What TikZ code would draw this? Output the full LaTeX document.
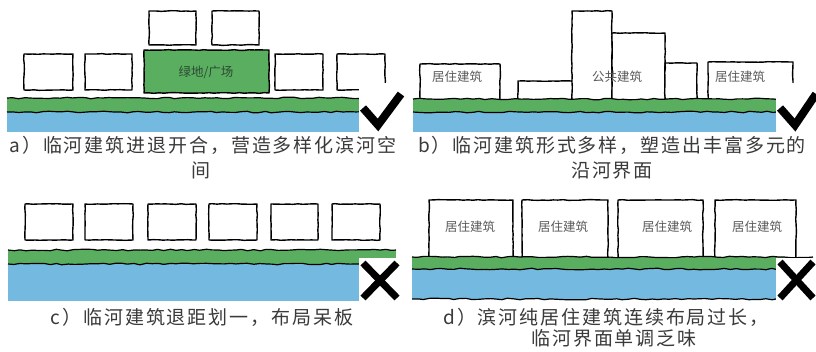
\documentclass[tikz,border=0pt]{standalone}
\usepackage{fontspec}
\setmainfont{Noto Sans CJK SC}
\usetikzlibrary{decorations.pathmorphing}
\definecolor{grass}{HTML}{5AAE60}
\definecolor{river}{HTML}{74B9DF}
\definecolor{captxt}{HTML}{3A3A3A}
\definecolor{lbltxt}{HTML}{5A5A5A}
\definecolor{lblgreen}{HTML}{2E4A33}
\pgfmathsetseed{7}
\tikzset{
  sketch/.style={draw=black, line width=1.4pt, line join=round, decorate,
    decoration={random steps, segment length=5pt, amplitude=0.35pt}},
  bldg/.style={sketch, fill=white},
  greenbox/.style={sketch, fill=grass},
  edge/.style={draw=black, line width=1.2pt, line join=round, decorate,
    decoration={random steps, segment length=6pt, amplitude=0.8pt}},
  caption/.style={text=captxt, inner sep=0pt,
    font=\fontsize{19}{22}\selectfont\addfontfeatures{LetterSpace=10}},
  lbl/.style={text=lbltxt, inner sep=0pt, font=\fontsize{12.5}{14}\selectfont},
  tick/.style={line width=8pt, line join=miter, line cap=butt},
  cross/.style={line width=7pt, line cap=butt},
}
\begin{document}
\begin{tikzpicture}[x=1pt,y=-1pt]
\useasboundingbox (0,0) rectangle (816,351);
\fill[white] (0,0) rectangle (816,351);

% ---------- panel a ----------
\path[bldg] (149,11) rectangle (196,45);
\path[bldg] (212,11) rectangle (259,45);
\path[bldg] (24,54) rectangle (73,90);
\path[bldg] (85,54) rectangle (132,90);
\path[greenbox] (144,50) rectangle (269,93);
\path[bldg] (275,54) rectangle (323,90);
\path[bldg] (337,54) rectangle (385,90);
\node[lbl, text=lblgreen] (a-green) at (206,72) {绿地/广场};
\fill[river] (7,112) rectangle (398,132);
\fill[grass] (7,98) rectangle (398,112);
\path[edge] (7,98) -- (398,98);
\path[edge] (7,112) -- (398,112);
\fill[white] (359,83) rectangle (400,133);
\draw[tick] (363,108) -- (378,125) -- (401,94);
\node[caption] (a-cap1) at (203,145) {a）临河建筑进退开合，营造多样化滨河空};
\node[caption] (a-cap2) at (201,170) {间};

% ---------- panel b ----------
\path[bldg] (420,64) rectangle (500,102);
\path[bldg] (518,81) rectangle (573,102);
\path[bldg] (572,11) rectangle (612,102);
\path[bldg] (612,33) rectangle (665,102);
\path[bldg] (665,63) rectangle (697,102);
\path[bldg] (708,62) rectangle (793,102);
\node[lbl] (b-res1) at (457,77) {居住建筑};
\node[lbl] (b-pub) at (617,77) {公共建筑};
\node[lbl] (b-res2) at (740,77) {居住建筑};
\fill[river] (413,112) rectangle (815,132);
\fill[grass] (413,99) rectangle (815,112);
\path[edge] (413,99) -- (815,99);
\path[edge] (413,112) -- (815,112);
\fill[white] (776,83) rectangle (816,133);
\draw[tick] (780,108) -- (795,125) -- (816,94);
\node[caption] (b-cap1) at (612,145) {b）临河建筑形式多样，塑造出丰富多元的};
\node[caption] (b-cap2) at (612,170) {沿河界面};

% ---------- panel c ----------
\path[bldg] (25,204) rectangle (73,240);
\path[bldg] (85,204) rectangle (133,240);
\path[bldg] (148,204) rectangle (196,240);
\path[bldg] (209,204) rectangle (257,240);
\path[bldg] (271,204) rectangle (318,240);
\path[bldg] (332,204) rectangle (380,240);
\fill[river] (8,264) rectangle (396,301);
\fill[grass] (8,250) rectangle (396,264);
\path[edge] (8,250) -- (396,250);
\path[edge] (8,264) -- (396,264);
\fill[white] (359,258) rectangle (401,302);
\draw[cross] (363,263) -- (397,298);
\draw[cross] (397,263) -- (363,298);
\node[caption] (c-cap) at (202,317) {c）临河建筑退距划一，布局呆板};

% ---------- panel d ----------
\path[bldg] (429,200) rectangle (513,259);
\path[bldg] (522,200) rectangle (608,259);
\path[bldg] (618,200) rectangle (703,259);
\path[bldg] (715,200) rectangle (796,259);
\node[lbl] (d-res1) at (470,227) {居住建筑};
\node[lbl] (d-res2) at (563,227) {居住建筑};
\node[lbl] (d-res3) at (667,227) {居住建筑};
\node[lbl] (d-res4) at (757,227) {居住建筑};
\fill[river] (412,269) rectangle (813,299);
\fill[grass] (412,257) rectangle (813,269);
\path[edge] (412,257) -- (813,257);
\path[edge] (412,269) -- (813,269);
\path[edge] (412,299) -- (776,299);
\fill[white] (776,258) rectangle (816,301);
\draw[cross] (780,262) -- (813,298);
\draw[cross] (813,262) -- (780,298);
\node[caption] (d-cap1) at (606,317) {d）滨河纯居住建筑连续布局过长，};
\node[caption] (d-cap2) at (614,338) {临河界面单调乏味};
\end{tikzpicture}
\end{document}
